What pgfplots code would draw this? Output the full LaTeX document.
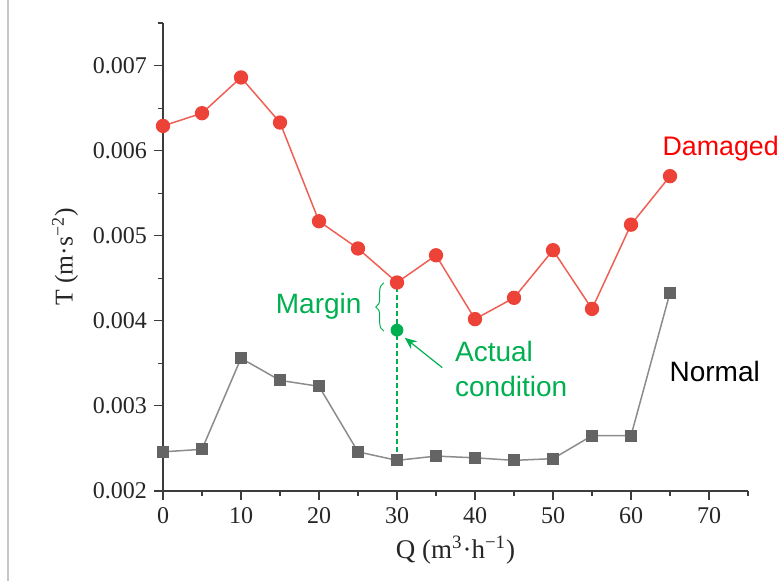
\documentclass[border=0pt]{standalone}
\usepackage{pgfplots}
\pgfplotsset{compat=1.18}
\usepackage{fontspec}
\setmainfont{Liberation Serif}
\newfontfamily\sansf{Liberation Sans}
\usetikzlibrary{decorations.pathreplacing,arrows.meta}
\definecolor{redline}{RGB}{240,95,85}
\definecolor{redmark}{RGB}{236,66,56}
\definecolor{grayline}{RGB}{140,140,140}
\definecolor{graymark}{RGB}{100,100,100}
\definecolor{anngreen}{RGB}{0,176,80}
\definecolor{axisc}{RGB}{60,60,60}
\begin{document}
\begin{tikzpicture}[x=1pt,y=1pt]
\useasboundingbox (0,0) rectangle (390,290.5);
\draw[black!22, line width=0.7pt] (4,0) -- (4,290.5);
\begin{axis}[
  at={(81.5pt,45pt)}, anchor=south west,
  scale only axis, width=292.5pt, height=234pt,
  xmin=0, xmax=75, ymin=0.002, ymax=0.0075,
  scaled y ticks=false, scaled x ticks=false,
  axis x line*=bottom, axis y line*=left,
  axis line style={-, color=axisc, line width=0.55pt},
  tick align=outside, major tick length=4.5pt, minor tick length=2.5pt,
  tick style={color=axisc, line width=0.55pt},
  xtick={0,10,20,30,40,50,60,70},
  minor xtick={5,15,25,35,45,55,65,75},
  ytick={0.002,0.003,0.004,0.005,0.006,0.007},
  yticklabels={0.002,0.003,0.004,0.005,0.006,0.007},
  minor ytick={0.0025,0.0035,0.0045,0.0055,0.0065,0.0075},
  /pgf/number format/assume math mode=true,
  tick label style={font=\fontsize{12}{13}\selectfont, text=black!85},
  xlabel={Q (m\textsuperscript{3}·h\textsuperscript{−1})},
  ylabel={T (m·s\textsuperscript{−2})},
  every axis x label/.style={at={([yshift=-29.5pt]axis description cs:0.5,0)}, anchor=center,
    font=\fontsize{13.5}{15}\selectfont, text=black!85},
  every axis y label/.style={at={([xshift=-49pt]axis description cs:0,0.5)}, anchor=center, rotate=90,
    font=\fontsize{12.8}{15}\selectfont, text=black!85},
  clip=false,
]
\addplot[color=redline, line width=0.75pt, mark=*, mark size=3.2pt,
  mark options={fill=redmark, draw=redmark}] coordinates {
  (0,0.00629) (5,0.00644) (10,0.00686) (15,0.00633) (20,0.00517)
  (25,0.00485) (30,0.00445) (35,0.00477) (40,0.00402) (45,0.00427)
  (50,0.00483) (55,0.00414) (60,0.00513) (65,0.00570)};
\addplot[color=grayline, line width=0.75pt, mark=square*, mark size=2.6pt,
  mark options={fill=graymark, draw=graymark}] coordinates {
  (0,0.00246) (5,0.00249) (10,0.00356) (15,0.00330) (20,0.00323)
  (25,0.00246) (30,0.00236) (35,0.00241) (40,0.00239) (45,0.00236)
  (50,0.00238) (55,0.00265) (60,0.00265) (65,0.00433)};
\addplot[color=anngreen, line width=0.6pt, dashed, dash pattern=on 2.5pt off 1.5pt]
  coordinates {(30,0.00440) (30,0.00240)};
\addplot[only marks, mark=*, mark size=3pt, mark options={fill=anngreen, draw=anngreen}]
  coordinates {(30,0.00389)};
\draw[anngreen, line width=0.5pt, decorate, decoration={brace, amplitude=4pt}]
  (axis cs:28.3,0.00388) -- (axis cs:28.3,0.004445);
\draw[anngreen, line width=0.6pt, -{Stealth[length=6pt,width=5pt]}]
  (axis cs:35.8,0.00345) -- (axis cs:31.0,0.00380);
\node[anchor=east, text=anngreen, font=\sansf\fontsize{14}{17}\selectfont, inner sep=0pt]
  at (axis cs:25.5,0.00417) {Margin};
\node[anchor=west, align=left, text=anngreen, font=\sansf\fontsize{14}{17.5}\selectfont, inner sep=0pt]
  at (axis cs:37.4,0.00343) {Actual\\condition};
\node[anchor=west, text=red, font=\sansf\fontsize{13.4}{17}\selectfont, inner sep=0pt]
  at (axis cs:64.0,0.00603) {Damaged};
\node[anchor=west, text=black, font=\sansf\fontsize{14}{17}\selectfont, inner sep=0pt]
  at (axis cs:64.9,0.00340) {Normal};
\end{axis}
\end{tikzpicture}
\end{document}
